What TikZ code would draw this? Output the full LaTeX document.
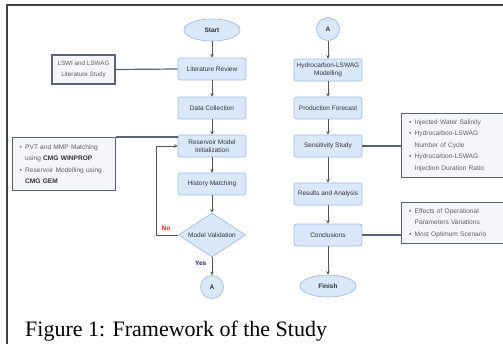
\documentclass[tikz,border=0pt]{standalone}
\usepackage{fontspec}
\setmainfont{Liberation Serif}
\newfontfamily\sfl{Liberation Sans}
\usetikzlibrary{shapes.geometric,arrows.meta}
\definecolor{boxfill}{HTML}{DAE8FC}
\definecolor{boxdraw}{HTML}{A4BDE3}
\definecolor{infofill}{HTML}{F4F6FA}
\definecolor{infodraw}{HTML}{5B6378}
\definecolor{infotext}{HTML}{606060}
\definecolor{flowtext}{HTML}{333333}
\definecolor{linegray}{HTML}{555555}
\definecolor{noRed}{HTML}{E02020}
\definecolor{yesNavy}{HTML}{1F2A6B}
\tikzset{
  flowbox/.style={draw=boxdraw, fill=boxfill, rounded corners=2.5pt, line width=0.7pt,
    minimum width=68pt, minimum height=22pt, inner sep=1pt, align=center,
    font=\sfl\fontsize{6.5}{7.6}\selectfont, text=flowtext},
  term/.style={ellipse, draw=boxdraw, fill=boxfill, line width=0.7pt,
    minimum width=56pt, minimum height=22pt, inner sep=0pt,
    font=\sfl\bfseries\fontsize{6.5}{7.6}\selectfont, text=flowtext},
  conn/.style={circle, draw=boxdraw, fill=boxfill, line width=0.7pt,
    minimum size=23pt, inner sep=0pt,
    font=\sfl\bfseries\fontsize{6.5}{7.6}\selectfont, text=flowtext},
  decide/.style={diamond, draw=boxdraw, fill=boxfill, line width=0.7pt,
    minimum width=67pt, minimum height=44pt, inner sep=0pt, aspect=1.5,
    font=\sfl\fontsize{6.5}{7.6}\selectfont, text=flowtext},
  infobox/.style={draw=infodraw, fill=infofill, line width=1.4pt,
    inner xsep=7pt, inner ysep=2pt, align=left, anchor=north west,
    font=\sfl\fontsize{6.6}{11.5}\selectfont, text=infotext},
  arr/.style={draw=linegray, line width=0.8pt, -{Stealth[length=3.5pt,width=3.5pt]}},
  infoline/.style={draw=infodraw, line width=1.2pt},
  lbl/.style={font=\sfl\bfseries\fontsize{6.5}{7.6}\selectfont},
  frameline/.style={draw=black!75, line width=1.5pt}
}
\newcommand{\bul}{\makebox[5.5pt][l]{•}}
\newcommand{\ind}{\hspace*{5.5pt}}
\begin{document}
\begin{tikzpicture}[x=1pt,y=-1pt]
\useasboundingbox (0,0) rectangle (503,343);
\clip (0,0) rectangle (503,343);
\fill[white] (0,0) rectangle (503,343);
% page frame
\coordinate (fb) at (7,344);
\coordinate (fc) at (7,5);
\coordinate (fr) at (504,5);
\draw[frameline] (fb) -- (fc) -- (fr);
% left column
\node[term] (start) at (212,30) {Start};
\node[flowbox] (lit) at (212,69) {Literature Review};
\node[flowbox] (data) at (212,108) {Data Collection};
\node[flowbox] (rmi) at (212,146) {Reservoir Model\\Initialization};
\node[flowbox] (hm) at (212,184) {History Matching};
\node[decide] (mv) at (212,235) {Model Validation};
\node[conn] (a1) at (212,287) {A};
% right column
\node[conn] (a2) at (328,29) {A};
\node[flowbox] (hcm) at (328,70) {Hydrocarbon-LSWAG\\Modelling};
\node[flowbox] (pf) at (328,108) {Production Forecast};
\node[flowbox] (ss) at (328,146) {Sensitivity Study};
\node[flowbox] (ra) at (328,194) {Results and Analysis};
\node[flowbox] (conc) at (328,235) {Conclusions};
\node[term] (fin) at (328,286) {Finish};
% info boxes
\node[draw=infodraw, fill=infofill, line width=1.4pt, minimum width=63pt, minimum height=29pt,
  align=center, inner sep=1pt, font=\sfl\fontsize{6.3}{10.5}\selectfont, text=infotext]
  (lswi) at (83.5,69.5) {LSWI and LSWAG\\Literature Study};
\node[infobox, minimum width=103pt, minimum height=53pt, text width=89pt] (pvt) at (12,137)
  {\bul PVT and MMP Matching\\
   \ind using \textcolor{flowtext}{\textbf{CMG WINPROP}}\\
   \bul Reservoir Modelling using\\
   \ind\textcolor{flowtext}{\textbf{CMG GEM}}};
\node[infobox, minimum width=115pt, minimum height=64pt, text width=100pt] (sens) at (401,113)
  {\bul Injected Water Salinity\\
   \bul Hydrocarbon-LSWAG\\
   \ind Number of Cycle\\
   \bul Hydrocarbon-LSWAG\\
   \ind Injection Duration Ratio};
\node[infobox, minimum width=115pt, minimum height=41pt, text width=100pt] (eff) at (401,202)
  {\bul Effects of Operational\\
   \ind Parameters Variations\\
   \bul Most Optimum Scenario};
% arrows left
\draw[arr] (start) -- (lit);
\draw[arr] (lit) -- (data);
\draw[arr] (data) -- (rmi);
\draw[arr] (rmi) -- (hm);
\draw[arr] (hm) -- (mv);
\draw[arr] (mv) -- (a1) node[lbl, text=yesNavy, pos=0.35, left=2pt] {Yes};
\draw[arr] (mv.west) -- ++(-22,0) node[lbl, text=noRed, pos=0.55, above=1pt] {No} |- (rmi.west);
% arrows right
\draw[arr] (a2) -- (hcm);
\draw[arr] (hcm) -- (pf);
\draw[arr] (pf) -- (ss);
\draw[arr] (ss) -- (ra);
\draw[arr] (ra) -- (conc);
\draw[arr] (conc) -- (fin);
% info connectors
\draw[infoline] (lswi.east) -- (lit.west);
\draw[infoline] (pvt.north east) -- (pvt.north east -| rmi.west);
\draw[infoline] (ss.east) -- (ss.east -| sens.west);
\draw[infoline] (conc.east) -- (conc.east -| eff.west);
% caption
\node[anchor=base west, inner sep=0pt, font=\fontsize{22}{26}\selectfont] (cap) at (25,336)
  {Figure 1: Framework of the Study};
\end{tikzpicture}
\end{document}
